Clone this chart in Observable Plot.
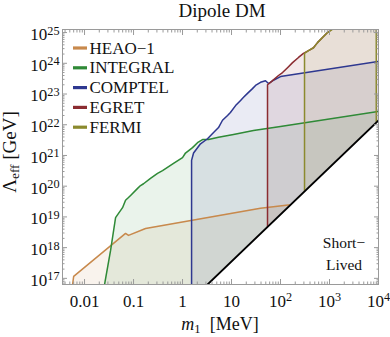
<!DOCTYPE html>
<html><head><meta charset="utf-8">
<script src="https://cdn.jsdelivr.net/npm/d3@7"></script>
<script src="https://cdn.jsdelivr.net/npm/@observablehq/plot@0.6"></script>
<style>body{margin:0;background:#fff} svg{display:block}</style>
</head><body><div id="chart"></div>
<script>
// ---- data ----
const seriesNames  = ["HEAO\u22121", "INTEGRAL", "COMPTEL", "EGRET", "FERMI"];
const seriesColors = ["#c8894c", "#2f8a37", "#2e3890", "#8b2c31", "#8b8a2e"];

const heaoM = [0.0057, 0.006, 0.0687, 0.079, 0.176, 39, 176];
const heaoL = [6.3e16, 1.16e17, 2.9e18, 2.5e18, 4.2e18, 1.9e19, 2.55e19];

const integralM = [0.0256, 0.034, 0.043, 0.0494, 0.0597, 0.0687, 0.079, 0.087, 0.121, 0.139, 0.16, 0.222, 0.309, 0.391, 0.655, 1.0, 1.15, 1.6, 2.02, 2.56, 3.4, 5.43, 11, 28.1, 100, 10000];
const integralL = [6.3e16, 8.1e17, 9.5e18, 1.3e19, 2.0e19, 3.5e19, 4.3e19, 5.0e19, 8.5e19, 1.05e20, 1.2e20, 1.8e20, 2.6e20, 3.2e20, 5.5e20, 8.5e20, 1.2e21, 1.8e21, 2.6e21, 3.3e21, 3.3e21, 3.9e21, 4.8e21, 6.5e21, 8.7e21, 2.7e22];

const comptelM = [1.53, 1.53, 1.68, 2.33, 3.24, 4.3, 5.43, 6.55, 8.3, 9.5, 12.1, 15.3, 17.6, 21.2, 26.8, 30.9, 39.1, 49.4, 56.9, 68.7, 100, 10000];
const comptelL = [6.3e16, 6.9e20, 1.2e21, 2.4e21, 3.5e21, 5.6e21, 8.1e21, 1.4e22, 2.0e22, 2.5e22, 4.2e22, 6.2e22, 7.8e22, 1.05e23, 1.5e23, 1.9e23, 2.4e23, 2.7e23, 2.2e23, 2.7e23, 3.7e23, 1.15e24];

const egretM = [54.3, 54.3, 62.5, 91, 110, 139, 176, 233, 294, 373, 471, 569, 720, 910, 1150, 1400, 10000];
const egretL = [6.3e16, 2.0e23, 2.4e23, 4.0e23, 5.0e23, 7.2e23, 1.05e24, 1.55e24, 2.1e24, 2.6e24, 3.2e24, 4.7e24, 6.9e24, 1.0e25, 1.35e25, 1e26, 1e26];

const fermiM = [309, 309, 373, 471, 569, 720, 910, 1208, 1400, 9000, 9000];
const fermiL = [6.3e16, 2.1e24, 2.6e24, 3.2e24, 4.7e24, 6.9e24, 1.0e25, 1.35e25, 1e26, 1e26, 6.3e16];

const shortLivedM = [3.24, 10000];
const shortLivedL = [6.3e16, 1.38e22];

const xMajor = [0.01, 0.1, 1, 10, 100, 1000, 10000];
const xTickLabels = ["0.01", "0.1", "1", "10", "10^2", "10^3", "10^4"];
const yMajor = [1e17, 1e18, 1e19, 1e20, 1e21, 1e22, 1e23, 1e24, 1e25];
const yTickLabels = ["10^17", "10^18", "10^19", "10^20", "10^21", "10^22", "10^23", "10^24", "10^25"];

// ---- build ----
const xDomain = [Math.pow(10, -2.45), 1e4];
const yDomain = [Math.pow(10, 16.8), Math.pow(10, 25.1)];
const yBase = yDomain[0];

const toRows = (ms, ls) => ms.map((m, i) => ({m, L: ls[i]}));
const series = [
  toRows(heaoM, heaoL), toRows(integralM, integralL), toRows(comptelM, comptelL),
  toRows(egretM, egretL), toRows(fermiM, fermiL)
];
const shortLived = toRows(shortLivedM, shortLivedL);

function minorTicks(lo, hi) {
  const out = [];
  for (let e = Math.floor(Math.log10(lo)); e <= Math.ceil(Math.log10(hi)); e++)
    for (let k = 2; k <= 9; k++) { const v = k * Math.pow(10, e); if (v >= lo && v <= hi) out.push(v); }
  return out;
}
const xMinor = minorTicks(...xDomain);
const yMinor = minorTicks(...yDomain);

const FONT = "Liberation Serif";
const tickStroke = "#9a9a9a";
const blank = () => "";

const marks = [];
series.forEach((d, i) => marks.push(Plot.areaY(d, {x: "m", y1: yBase, y2: "L", fill: seriesColors[i], fillOpacity: 0.1, clip: true})));
series.forEach((d, i) => marks.push(Plot.line(d, {x: "m", y: "L", stroke: seriesColors[i], strokeWidth: 1.5, clip: true})));
marks.push(Plot.areaY(shortLived, {x: "m", y1: yBase, y2: "L", fill: "white", clip: true}));
marks.push(Plot.line(shortLived, {x: "m", y: "L", stroke: "black", strokeWidth: 1.8, clip: true}));
marks.push(Plot.frame({stroke: tickStroke, strokeWidth: 1}));
for (const a of ["bottom", "top"]) {
  marks.push(Plot.axisX(xMajor, {anchor: a, tickSize: -5, tickFormat: blank, stroke: tickStroke, label: null}));
  marks.push(Plot.axisX(xMinor, {anchor: a, tickSize: -2.5, tickFormat: blank, stroke: tickStroke, label: null}));
}
for (const a of ["left", "right"]) {
  marks.push(Plot.axisY(yMajor, {anchor: a, tickSize: -5, tickFormat: blank, stroke: tickStroke, label: null}));
  marks.push(Plot.axisY(yMinor, {anchor: a, tickSize: -2.5, tickFormat: blank, stroke: tickStroke, label: null}));
}
marks.push(Plot.axisX(xMajor, {anchor: "bottom", tickSize: 0, tickPadding: 10, fontSize: 17, fill: "#111",
  tickFormat: d => xTickLabels[xMajor.indexOf(d)], label: null}));
marks.push(Plot.axisY(yMajor, {anchor: "left", tickSize: 0, tickPadding: 3, fontSize: 17, fill: "#111", dy: 2,
  tickFormat: d => yTickLabels[yMajor.indexOf(d)], label: null}));

const svg = Plot.plot({
  width: 390, height: 337,
  marginLeft: 62, marginRight: 12, marginTop: 29, marginBottom: 53,
  style: {fontFamily: FONT, background: "white", color: "#111"},
  x: {type: "log", domain: xDomain},
  y: {type: "log", domain: yDomain},
  marks
});

const s = d3.select(svg);
// superscripts for 10^n tick labels
s.selectAll("text").each(function () {
  const t = this.textContent;
  if (t.includes("^")) {
    const [b, e] = t.split("^");
    const el = d3.select(this);
    el.text(null);
    el.append("tspan").text(b);
    el.append("tspan").attr("dy", "-0.45em").attr("font-size", "72%").text(e);
  }
});

// title
s.append("text").attr("x", 222).attr("y", 17).attr("text-anchor", "middle")
  .attr("font-family", FONT).attr("font-size", 19).attr("fill", "#111").text("Dipole DM");

// x label
const xl = s.append("text").attr("x", 220).attr("y", 330).attr("text-anchor", "middle")
  .attr("font-family", FONT).attr("font-size", 18).attr("fill", "#111");
xl.append("tspan").attr("font-style", "italic").text("m");
xl.append("tspan").attr("dy", "0.25em").attr("font-size", "70%").text("1");
xl.append("tspan").attr("dy", "-0.18em").text("\u2002[MeV]");

// y label
const yl = s.append("text").attr("transform", "translate(16,152) rotate(-90)").attr("text-anchor", "middle")
  .attr("font-family", FONT).attr("font-size", 19).attr("fill", "#111");
yl.append("tspan").text("\u039B");
yl.append("tspan").attr("dy", "0.25em").attr("font-size", "70%").text("eff");
yl.append("tspan").attr("dy", "-0.18em").text(" [GeV]");

// legend
seriesNames.forEach((name, i) => {
  const y = 48 + i * 19.8;
  s.append("line").attr("x1", 73).attr("x2", 87).attr("y1", y).attr("y2", y)
    .attr("stroke", seriesColors[i]).attr("stroke-width", 3.2);
  s.append("text").attr("x", 89.5).attr("y", y + 5.5).attr("text-anchor", "start").attr("font-family", FONT)
    .attr("font-size", 17).attr("fill", "#111").text(name);
});

// short-lived label
const sl = s.append("text").attr("font-family", FONT).attr("font-size", 15.5).attr("fill", "#111").attr("text-anchor", "middle");
sl.append("tspan").attr("x", 344).attr("y", 248).text("Short\u2212");
sl.append("tspan").attr("x", 344).attr("y", 270).text("Lived");

document.getElementById("chart").appendChild(svg);
</script>
</body></html>
